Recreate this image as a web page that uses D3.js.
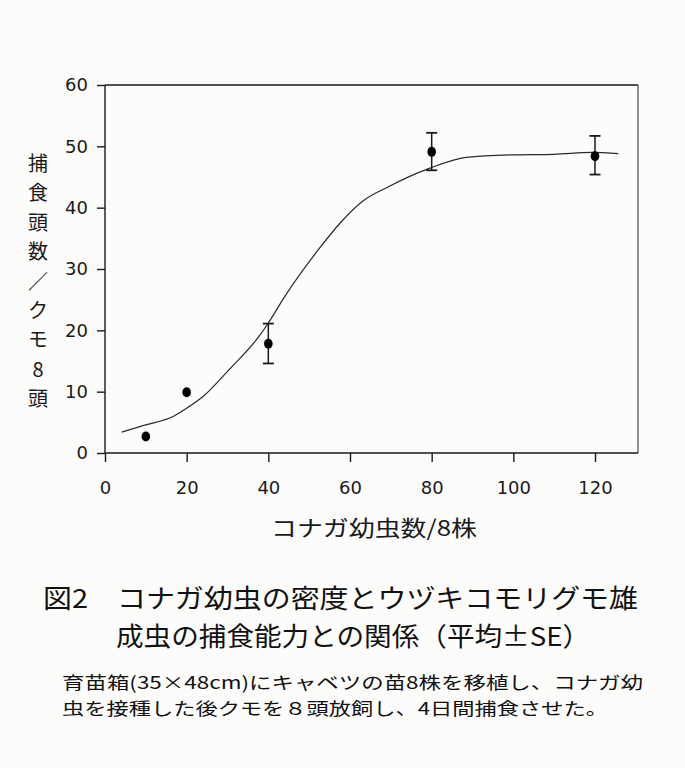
<!DOCTYPE html>
<html>
<head>
<meta charset="utf-8">
<script src="https://cdn.jsdelivr.net/npm/d3@7"></script>
<style>
  html, body { margin: 0; padding: 0; background: #fcfcfa; }
  svg { display: block; }
</style>
</head>
<body>
<svg id="chart" width="685" height="768"></svg>
<script>
// ---- data ----
const larvae = [10, 20, 40, 80, 120];          // コナガ幼虫数/8株
const captured = [2.7, 9.9, 17.8, 49.1, 48.4];  // 捕食頭数/クモ8頭 (mean)
const errLow  = [2.7, 9.9, 14.6, 46.1, 45.4];   // mean - SE
const errHigh = [2.7, 9.9, 21.1, 52.2, 51.7];   // mean + SE
// fitted curve
const curveX = [4.1, 9.5, 16.8, 20, 24, 30.4, 37.7, 40, 44, 52.2, 57.6, 63, 69.4, 79.4, 88.5, 99.4, 110, 119.3, 125.7];
const curveY = [3.4, 4.5, 6.0, 7.3, 9.2, 13.6, 19.0, 21.2, 25.5, 33.1, 37.5, 41.0, 43.4, 46.4, 48.2, 48.6, 48.7, 49.0, 48.8];
const xTicks = [0, 20, 40, 60, 80, 100, 120];
const yTicks = [0, 10, 20, 30, 40, 50, 60];
const yLabelChars = ["捕", "食", "頭", "数", "／", "ク", "モ", "8", "頭"];
const xLabel = "コナガ幼虫数/8株";
const title1 = "図2　コナガ幼虫の密度とウヅキコモリグモ雄";
const title2 = "成虫の捕食能力との関係（平均±SE）";
const note1 = "育苗箱(35×48cm)にキャベツの苗8株を移植し、コナガ幼";
const note2 = "虫を接種した後クモを８頭放飼し、4日間捕食させた。";

// ---- drawing ----
const svg = d3.select("#chart");
const ink = "#1a1a1a";
const jp = "'Noto Sans CJK JP', sans-serif";

const x = d3.scaleLinear().domain([0, 120]).range([105, 595]);
const y = d3.scaleLinear().domain([0, 60]).range([453, 85]);
const xMax = x.invert(638);

// frame (top and right)
svg.append("line").attr("x1", x(0)).attr("x2", x(xMax)).attr("y1", y(60)).attr("y2", y(60))
  .attr("stroke", ink).attr("stroke-width", 1.4);
svg.append("line").attr("x1", x(xMax)).attr("x2", x(xMax)).attr("y1", y(60)).attr("y2", y(0))
  .attr("stroke", "#555").attr("stroke-width", 1.3);

// x axis
const gx = svg.append("g").attr("transform", `translate(0,${y(0)})`)
  .call(d3.axisBottom(x).tickValues(xTicks).tickSize(9).tickPadding(19).tickSizeOuter(0));
gx.select(".domain").remove();
gx.append("line").attr("x1", x(0)).attr("x2", x(xMax)).attr("y1", 0).attr("y2", 0)
  .attr("stroke", ink).attr("stroke-width", 1.4);

// y axis
const gy = svg.append("g").attr("transform", `translate(${x(0)},0)`)
  .call(d3.axisLeft(y).tickValues(yTicks).tickSize(8).tickPadding(9).tickSizeOuter(0));
gy.select(".domain").remove();
gy.append("line").attr("x1", 0).attr("x2", 0).attr("y1", y(60)).attr("y2", y(0))
  .attr("stroke", ink).attr("stroke-width", 1.4);

[gx, gy].forEach(g => {
  g.selectAll(".tick line").attr("stroke", ink).attr("stroke-width", 1.4);
  g.selectAll(".tick text").attr("fill", ink)
    .style("font-family", "'DejaVu Sans', sans-serif").style("font-size", "18px");
});

// fitted curve
svg.append("path")
  .datum(curveX.map((v, i) => [v, curveY[i]]))
  .attr("d", d3.line().x(d => x(d[0])).y(d => y(d[1])).curve(d3.curveMonotoneX))
  .attr("fill", "none").attr("stroke", "#2a2a2a").attr("stroke-width", 1.2);

// error bars
const eb = svg.append("g");
larvae.forEach((v, i) => {
  if (errHigh[i] - errLow[i] <= 0) return;
  const cx = x(v);
  eb.append("line").attr("x1", cx).attr("x2", cx).attr("y1", y(errHigh[i])).attr("y2", y(errLow[i]))
    .attr("stroke", ink).attr("stroke-width", 1.5);
  [errHigh[i], errLow[i]].forEach(e => {
    eb.append("line").attr("x1", cx - 5.5).attr("x2", cx + 5.5).attr("y1", y(e)).attr("y2", y(e))
      .attr("stroke", ink).attr("stroke-width", 1.8);
  });
});

// points
svg.append("g").selectAll("ellipse").data(larvae).join("ellipse")
  .attr("cx", d => x(d)).attr("cy", (d, i) => y(captured[i]))
  .attr("rx", 4.3).attr("ry", 5).attr("fill", "#000");

// y axis label (vertical, one character per line, evenly spaced)
const yTop = 162, yBottom = 397;
const step = (yBottom - yTop) / (yLabelChars.length - 1);
svg.append("text")
  .attr("text-anchor", "middle").attr("dominant-baseline", "central")
  .attr("fill", ink).style("font-family", jp).style("font-size", "20px")
  .selectAll("tspan").data(yLabelChars).join("tspan")
  .attr("x", 38).attr("y", (d, i) => yTop + i * step)
  .text(d => d);

// x axis label
svg.append("text").attr("x", 271).attr("y", 536)
  .attr("textLength", 206).attr("lengthAdjust", "spacingAndGlyphs")
  .attr("fill", ink).style("font-family", jp).style("font-size", "22px")
  .text(xLabel);

// caption: title (2 lines) and note (2 lines)
const titleLines = [
  { t: title1, x: 43, y: 608, w: 595 },
  { t: title2, x: 116, y: 646, w: 474 }
];
svg.append("text").attr("fill", "#111").style("font-family", jp).style("font-size", "26px")
  .selectAll("tspan").data(titleLines).join("tspan")
  .attr("x", d => d.x).attr("y", d => d.y)
  .attr("textLength", d => d.w).attr("lengthAdjust", "spacingAndGlyphs")
  .text(d => d.t);

const noteLines = [
  { t: note1, x: 62, y: 689, w: 581 },
  { t: note2, x: 62, y: 715, w: 546 }
];
svg.append("text").attr("fill", "#111").style("font-family", jp).style("font-size", "17.5px")
  .selectAll("tspan").data(noteLines).join("tspan")
  .attr("x", d => d.x).attr("y", d => d.y)
  .attr("textLength", d => d.w).attr("lengthAdjust", "spacingAndGlyphs")
  .text(d => d.t);
</script>
</body>
</html>
